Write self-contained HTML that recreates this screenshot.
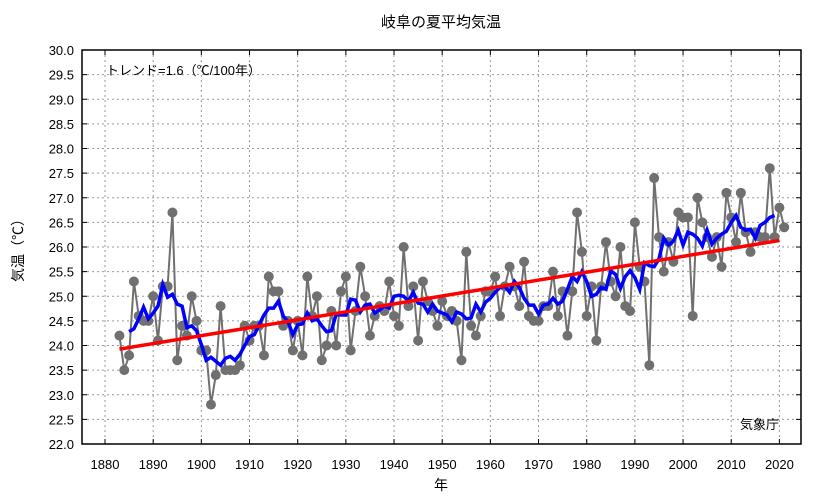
<!DOCTYPE html>
<html><head><meta charset="utf-8"><style>
body{margin:0;background:#fff}
svg text{font-family:"Liberation Sans","Noto Sans CJK JP",sans-serif;fill:#000}
</style></head><body>
<svg id="chart" width="833" height="498" xmlns="http://www.w3.org/2000/svg">
<rect width="833" height="498" fill="#fff"/>
<text x="441" y="27" font-size="15" text-anchor="middle">岐阜の夏平均気温</text>
<g id="grid"></g>
<g id="axes"></g>
<g id="series"></g>
<text x="106" y="75" font-size="13">トレンド=1.6（℃/100年）</text>
<text x="740" y="429" font-size="13">気象庁</text>
<text x="441" y="490" font-size="14" text-anchor="middle">年</text>
<text transform="translate(23,247) rotate(-90)" font-size="14" text-anchor="middle">気温（℃）</text>
</svg>
<script>
const startYear = 1883;
const temps = [24.2,23.5,23.8,25.3,24.6,24.5,24.5,25.0,24.1,25.2,25.2,26.7,23.7,24.4,24.2,25.0,24.5,23.9,23.9,22.8,
23.4,24.8,23.5,23.5,23.5,23.6,24.4,24.1,24.4,24.4,23.8,25.4,25.1,25.1,24.4,24.5,23.9,24.5,23.8,25.4,
24.6,25.0,23.7,24.0,24.7,24.0,25.1,25.4,23.9,24.7,25.6,25.0,24.2,24.6,24.8,24.7,25.3,24.6,24.4,26.0,
24.8,25.2,24.1,25.3,24.9,24.7,24.4,24.9,24.6,24.7,24.5,23.7,25.9,24.4,24.2,24.6,25.1,25.1,25.4,24.6,
25.2,25.6,25.2,24.8,25.7,24.6,24.5,24.5,24.8,24.8,25.5,24.6,25.1,24.2,25.1,26.7,25.9,24.6,25.2,24.1,
25.2,26.1,25.3,25.0,26.0,24.8,24.7,26.5,25.6,25.3,23.6,27.4,26.2,25.5,26.1,25.7,26.7,26.6,26.6,24.6,
27.0,26.5,26.2,25.8,26.2,25.6,27.1,26.6,26.1,27.1,26.3,25.9,26.3,26.2,26.2,27.6,26.2,26.8,26.4];
const yTicks = ["22.0","22.5","23.0","23.5","24.0","24.5","25.0","25.5","26.0","26.5","27.0","27.5","28.0","28.5","29.0","29.5","30.0"];
const xTicks = [1880,1890,1900,1910,1920,1930,1940,1950,1960,1970,1980,1990,2000,2010,2020];

const NS="http://www.w3.org/2000/svg";
const L=82,R=801,T=50,B=444;
const xS=yr=>105+(yr-1880)*(779.4-105)/140;
const yS=v=>B-(v-22)*(B-T)/8;
function mk(tag,attrs,parent){const e=document.createElementNS(NS,tag);for(const k in attrs)e.setAttribute(k,attrs[k]);parent.appendChild(e);return e;}
const grid=document.getElementById('grid'),axes=document.getElementById('axes'),series=document.getElementById('series');

yTicks.forEach(t=>{const y=yS(parseFloat(t));
  const g=mk('line',{x1:L,x2:R,y1:y,y2:y,stroke:'#999','stroke-dasharray':'2,3','stroke-width':1},grid);
  
  mk('line',{x1:L,x2:L+5,y1:y,y2:y,stroke:'#000'},axes);
  mk('line',{x1:R-5,x2:R,y1:y,y2:y,stroke:'#000'},axes);
  const tx=mk('text',{x:L-8,y:y+5,'font-size':13,'text-anchor':'end'},axes);tx.textContent=t;
  
});
xTicks.forEach(t=>{const x=xS(t);
  const g=mk('line',{x1:x,x2:x,y1:T,y2:B,stroke:'#999','stroke-dasharray':'2,3','stroke-width':1},grid);
  
  mk('line',{x1:x,x2:x,y1:B,y2:B-5,stroke:'#000'},axes);
  mk('line',{x1:x,x2:x,y1:T,y2:T+5,stroke:'#000'},axes);
  const tx=mk('text',{x:x,y:B+25,'font-size':13,'text-anchor':'middle'},axes);tx.textContent=t;
  
});
const frame=mk('rect',{x:L,y:T,width:R-L,height:B-T,fill:'none',stroke:'#000','stroke-width':1.5},axes);


const pts=temps.map((v,i)=>[xS(startYear+i),yS(v)]);
const gl=mk('polyline',{points:pts.map(p=>p.join(',')).join(' '),fill:'none',stroke:'#707070','stroke-width':2},series);

pts.forEach(p=>{const c=mk('circle',{cx:p[0],cy:p[1],r:5,fill:'#707070'},series);
  });

const ma=[];for(let i=2;i<temps.length-2;i++){let s=0;for(let j=-2;j<=2;j++)s+=temps[i+j];ma.push([xS(startYear+i),yS(s/5)]);}
const bl=mk('polyline',{points:ma.map(p=>p.join(',')).join(' '),fill:'none',stroke:'#0000ff','stroke-width':3.5},series);


const n=temps.length;let sx=0,sy=0,sxx=0,sxy=0;
temps.forEach((v,i)=>{const x=startYear+i;sx+=x;sy+=v;sxx+=x*x;sxy+=x*v;});
const slope=(n*sxy-sx*sy)/(n*sxx-sx*sx),icpt=(sy-slope*sx)/n;
const y0=startYear,y1=2020;
const tl=mk('line',{x1:xS(y0),y1:yS(icpt+slope*y0),x2:xS(y1),y2:yS(icpt+slope*y1),stroke:'#ff0000','stroke-width':3.5},series);

</script>
</body></html>
